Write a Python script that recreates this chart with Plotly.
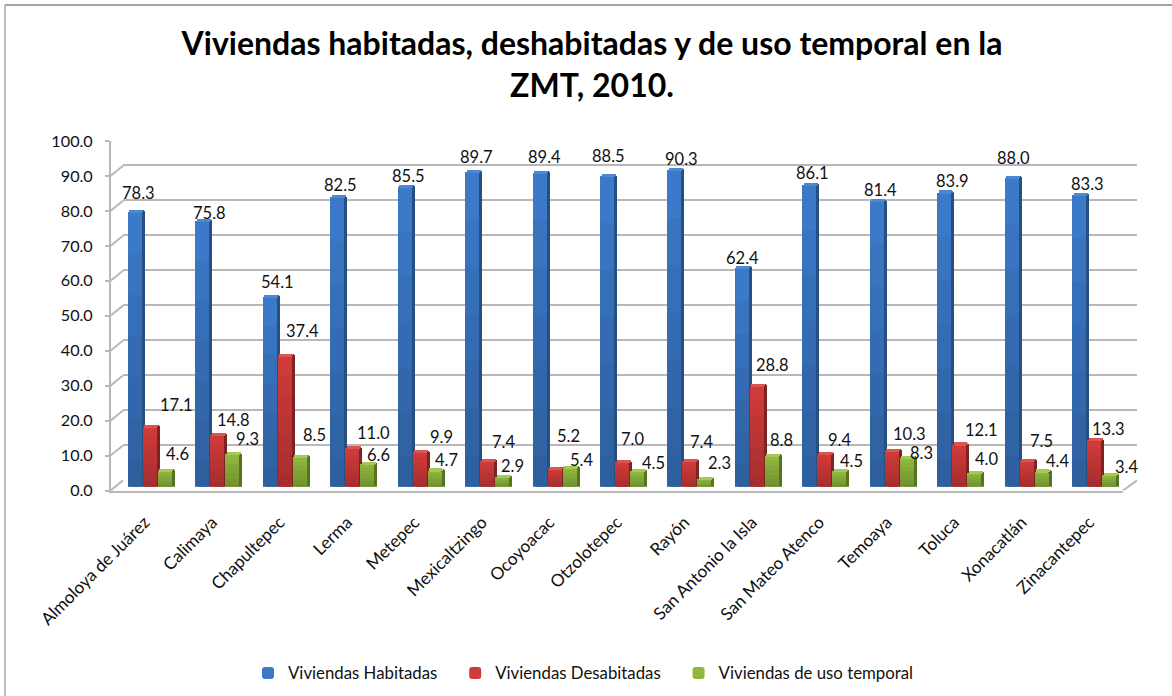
import plotly.graph_objects as go

CATEGORIES = ["Almoloya de Juárez", "Calimaya", "Chapultepec", "Lerma", "Metepec", "Mexicaltzingo",
              "Ocoyoacac", "Otzolotepec", "Rayón", "San Antonio la Isla", "San Mateo Atenco",
              "Temoaya", "Toluca", "Xonacatlán", "Zinacantepec"]
HABITADAS = [78.3, 75.8, 54.1, 82.5, 85.5, 89.7, 89.4, 88.5, 90.3, 62.4, 86.1, 81.4, 83.9, 88.0, 83.3]
DESHABITADAS = [17.1, 14.8, 37.4, 11.0, 9.9, 7.4, 5.2, 7.0, 7.4, 28.8, 9.4, 10.3, 12.1, 7.5, 13.3]
TEMPORAL = [4.6, 9.3, 8.5, 6.6, 4.7, 2.9, 5.4, 4.5, 2.3, 8.8, 4.5, 8.3, 4.0, 4.4, 3.4]
GAP = "\u00a0\u00a0\u00a0"  # widens the space between legend entries
SERIES_NAMES = ["Viviendas Habitadas" + GAP, "Viviendas Desabitadas" + GAP, "Viviendas de uso temporal"]
Y_TICKS = [0, 10, 20, 30, 40, 50, 60, 70, 80, 90, 100]

# label nudges in pixels (right, up) relative to each bar's top centre
LABEL_DX = [
    [4, 7, 8, 3, 4, 5, 5, 2, 7, 1, 3, 4, 8, 2, 8],
    [27, 16, 18, 21, 22, 17, 14, 11, 12, 16, 15, 18, 22, 15, 14],
    [13, 15, 15, 11, 12, 11, 12, 17, 15, 10, 12, 15, 12, 16, 17],
]
LABEL_DY = [
    [19, 8, 15, 12, 11, 15, 16, 20, 11, 10, 11, 11, 11, 20, 10],
    [22, 15, 24, 15, 15, 19, 32, 23, 19, 21, 14, 17, 14, 19, 11],
    [17, 15, 22, 9, 10, 11, 8, 8, 16, 16, 10, 5, 14, 10, 8],
]

W, H = 1172, 696
FONT = "Lato"
INK = "#111111"
GREY = "#b8b8b8"
SERIES = [HABITADAS, DESHABITADAS, TEMPORAL]
FRONT = ["#3c79c8", "#cf3b3a", "#8fb73e"]
SIDE = ["#264f82", "#7d2322", "#56741f"]
CAP = ["#4d88d6", "#dc5350", "#a5c856"]
SHADE = "rgba(0,0,0,0.035)"
SHADE_STEPS = [0.85, 0.7, 0.55, 0.4, 0.25, 0.1]
PITCH = 1012 / 15
BAR_PX, STEP_PX, DEPTH_PX = 14, 15, 3
FIRST_LEFT = (127.6 - 150.6) / PITCH


def xd(a, b):
    return [a / W, b / W]


def yd(bottom, top):
    return [1 - bottom / H, 1 - top / H]


fig = go.Figure()
# back wall, bars plane, front axis plane: three overlapping subplots give the depth
fig.add_trace(go.Scatter(x=CATEGORIES, y=HABITADAS, mode="none", showlegend=False, hoverinfo="skip",
                         xaxis="x", yaxis="y"))
labels = []
for s, values in enumerate(SERIES):
    left = FIRST_LEFT + s * STEP_PX / PITCH
    width = BAR_PX / PITCH
    depth = DEPTH_PX / PITCH
    common = dict(x=CATEGORIES, xaxis="x2", yaxis="y2", marker_line_width=0)
    deco = dict(showlegend=False, hoverinfo="skip", **common)
    fig.add_trace(go.Bar(y=[v + 0.5 for v in values], offset=left + depth, width=width,
                         marker_color=SIDE[s], **deco))
    fig.add_trace(go.Bar(y=values, offset=left, width=width, marker_color=FRONT[s],
                         name=SERIES_NAMES[s], **common))
    for f in SHADE_STEPS:
        fig.add_trace(go.Bar(y=[v * f for v in values], offset=left, width=width,
                             marker_color=SHADE, **deco))
    fig.add_trace(go.Bar(y=[0.9] * 15, base=[v - 0.3 for v in values], offset=left + depth / 2, width=width,
                         marker_color=CAP[s], **deco))
    for i, v in enumerate(values):
        labels.append(dict(x=i + left + width / 2, y=v, xref="x2", yref="y2", text=f"{v:.1f}",
                           showarrow=False, xanchor="center", yanchor="middle",
                           xshift=LABEL_DX[s][i], yshift=LABEL_DY[s][i],
                           font=dict(family=FONT, size=16.5, color=INK)))
fig.add_trace(go.Scatter(x=CATEGORIES, y=HABITADAS, mode="none", showlegend=False, hoverinfo="skip",
                         xaxis="x3", yaxis="y3"))

shapes = [
    dict(type="line", xref="paper", yref="paper", x0=5 / W, x1=1, y0=1 - 5 / H, y1=1 - 5 / H,
         line=dict(color="#858585", width=1.5)),
    dict(type="line", xref="paper", yref="paper", x0=5 / W, x1=5 / W, y0=0, y1=1 - 5 / H,
         line=dict(color="#a8a8a8", width=1.5)),
    dict(type="line", xref="paper", yref="y3", x0=1123 / W, x1=1137 / W, y0=0, y1=2.9,
         line=dict(color=GREY, width=2)),
]
for t in Y_TICKS:
    shapes.append(dict(type="line", xref="paper", yref="y3", x0=110.5 / W, x1=123 / W, y0=t, y1=t + 2.9,
                       line=dict(color=GREY, width=2)))

axis_common = dict(range=[-0.5, 14.5], type="category", categoryorder="array", categoryarray=CATEGORIES,
                   automargin=False)
y_common = dict(range=[0, 100], zeroline=False, automargin=False)
fig.update_layout(
    width=W, height=H, autosize=False, margin=dict(l=0, r=0, t=0, b=0),
    paper_bgcolor="white", plot_bgcolor="rgba(0,0,0,0)", barmode="overlay", bargap=0,
    barcornerradius=2, font=dict(family=FONT, color=INK), showlegend=True,
    title=dict(text="<b>Viviendas habitadas, deshabitadas y de uso temporal en la<br>ZMT, 2010.</b>",
               x=592 / W, xanchor="center", y=1 - 55 / H, yanchor="middle", automargin=False,
               font=dict(family=FONT, size=32, color="#000000")),
    xaxis=dict(domain=xd(123, 1137), anchor="y", visible=False, **axis_common),
    yaxis=dict(domain=yd(480.5, 129.5), anchor="x", showgrid=True, gridcolor=GREY, gridwidth=2,
               tickvals=Y_TICKS, showticklabels=False, ticks="", showline=False, **y_common),
    xaxis2=dict(domain=xd(116.9, 1128.9), anchor="y2", visible=False, **axis_common),
    yaxis2=dict(domain=yd(486.7, 135.7), anchor="x2", visible=False, **y_common),
    xaxis3=dict(domain=xd(111, 1123), anchor="y3", showline=True, linecolor=GREY, linewidth=2,
                tickangle=-45, ticks="", tickfont=dict(family=FONT, size=17.2, color=INK), showgrid=False,
                ticklabelstandoff=13, **axis_common),
    yaxis3=dict(domain=yd(490.5, 141), anchor="x3", showline=True, linecolor=GREY, linewidth=2, showgrid=False,
                ticks="outside", ticklen=4, tickcolor=GREY, tickwidth=2, tickvals=Y_TICKS,
                tickformat=".1f", tickfont=dict(family=FONT, size=16.2, color=INK), ticklabelstandoff=9, **y_common),
    legend=dict(orientation="h", x=248 / W, xanchor="left", y=1 - 673 / H, yanchor="middle",
                font=dict(family=FONT, size=16.8, color=INK),
                itemclick=False, itemdoubleclick=False, traceorder="normal"),
    annotations=labels, shapes=shapes,
)
fig.write_html("out.html", config={"displayModeBar": False}, post_script="document.body.style.margin='0';")
